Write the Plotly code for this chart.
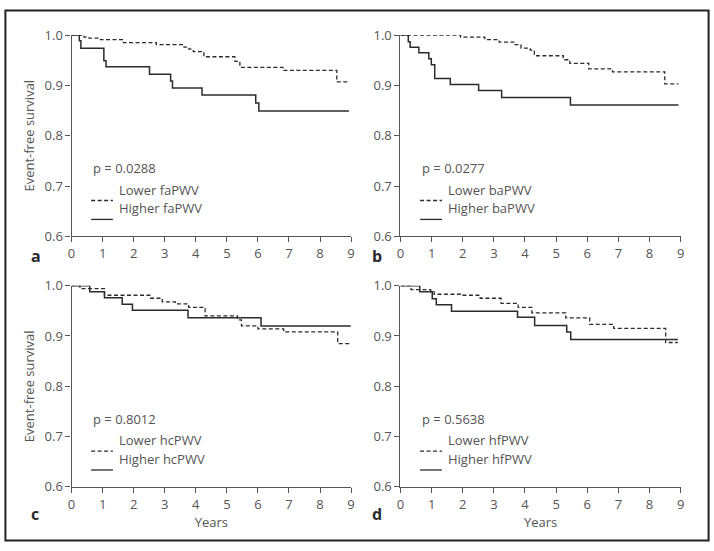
import plotly.graph_objects as go
from plotly.subplots import make_subplots

# Kaplan-Meier curves: step times (years) and survival
a_low_t = [0, 0.40, 0.56, 0.93, 1.67, 2.73, 3.62, 3.78, 3.92, 4.26, 5.26, 5.42, 6.81, 8.54, 8.93]
a_low_s = [1.0, 0.996, 0.994, 0.991, 0.985, 0.981, 0.976, 0.972, 0.967, 0.957, 0.948, 0.936, 0.930, 0.907, 0.907]
a_high_t = [0, 0.25, 0.30, 1.04, 1.11, 2.51, 3.19, 3.25, 4.20, 5.93, 6.03, 8.93]
a_high_s = [1.0, 0.989, 0.974, 0.949, 0.937, 0.922, 0.909, 0.895, 0.881, 0.865, 0.849, 0.849]

b_low_t = [0, 1.93, 2.71, 3.17, 3.64, 3.87, 4.17, 4.30, 5.23, 5.44, 6.05, 6.81, 8.49, 8.93]
b_low_s = [1.0, 0.996, 0.991, 0.986, 0.981, 0.974, 0.970, 0.959, 0.951, 0.944, 0.933, 0.927, 0.903, 0.903]
b_high_t = [0, 0.25, 0.31, 0.59, 0.91, 0.99, 1.10, 1.60, 2.51, 3.25, 5.46, 8.93]
b_high_s = [1.0, 0.987, 0.976, 0.965, 0.953, 0.941, 0.914, 0.902, 0.890, 0.876, 0.861, 0.861]

c_low_t = [0, 0.27, 1.06, 2.52, 2.92, 3.34, 3.77, 4.30, 5.34, 5.47, 6.00, 6.83, 8.57, 8.99]
c_low_s = [1.0, 0.994, 0.981, 0.975, 0.968, 0.964, 0.957, 0.940, 0.932, 0.920, 0.914, 0.908, 0.885, 0.885]
c_high_t = [0, 0.585, 1.06, 1.63, 1.96, 3.75, 6.10, 8.99]
c_high_s = [1.0, 0.988, 0.976, 0.963, 0.951, 0.936, 0.920, 0.920]

d_low_t = [0, 0.34, 0.97, 1.08, 1.93, 2.56, 3.23, 3.78, 4.22, 5.31, 6.08, 6.85, 8.52, 8.91]
d_low_s = [1.0, 0.992, 0.988, 0.983, 0.981, 0.975, 0.965, 0.957, 0.946, 0.936, 0.923, 0.915, 0.887, 0.887]
d_high_t = [0, 0.62, 1.02, 1.15, 1.64, 3.76, 4.31, 5.34, 5.47, 8.91]
d_high_s = [1.0, 0.988, 0.974, 0.962, 0.949, 0.937, 0.921, 0.908, 0.893, 0.893]

panel_letters = ["a", "b", "c", "d"]
measures = ["faPWV", "baPWV", "hcPWV", "hfPWV"]
p_values = ["0.0288", "0.0277", "0.8012", "0.5638"]

curves = [
    (a_low_t, a_low_s, a_high_t, a_high_s),
    (b_low_t, b_low_s, b_high_t, b_high_s),
    (c_low_t, c_low_s, c_high_t, c_high_s),
    (d_low_t, d_low_s, d_high_t, d_high_s),
]

FONT = "Open Sans"
INK = "#2b2b2b"
GREY = "#555555"

fig = make_subplots(rows=2, cols=2)

x_domains = [[0.0957, 0.4916], [0.5616, 0.9584]]
y_domains = [[0.5735, 0.951], [0.1034, 0.4809]]

for i, (lt, ls, ht, hs) in enumerate(curves):
    row, col = i // 2 + 1, i % 2 + 1
    fig.add_trace(go.Scatter(x=lt, y=ls, mode="lines", line_shape="hv",
                             line=dict(color=INK, width=1.3, dash="4px,2.5px"),
                             showlegend=False), row=row, col=col)
    fig.add_trace(go.Scatter(x=ht, y=hs, mode="lines", line_shape="hv",
                             line=dict(color=INK, width=1.5),
                             showlegend=False), row=row, col=col)

    n = "" if i == 0 else str(i + 1)
    xr, yr = "x" + n, "y" + n
    fig.update_xaxes(domain=x_domains[col - 1], range=[0, 9], tickvals=list(range(10)),
                     row=row, col=col)
    fig.update_yaxes(domain=y_domains[row - 1], range=[0.6, 1.0],
                     tickvals=[0.6, 0.7, 0.8, 0.9, 1.0], ticktext=["0.6", "0.7", "0.8", "0.9", "1.0"],
                     row=row, col=col)
    if col == 1:
        fig.update_yaxes(title=dict(text="Event-free survival", standoff=6,
                                    font=dict(size=13, color=GREY)), row=row, col=col)
    if row == 2:
        fig.update_xaxes(title=dict(text="Years", standoff=6,
                                    font=dict(size=13, color=GREY)), row=row, col=col)

    # p value and hand-drawn style legend
    fig.add_annotation(x=0.07, y=0.284, xref=xr + " domain", yref=yr + " domain",
                       text="p = " + p_values[i], showarrow=False, xanchor="left",
                       font=dict(size=13, color=GREY))
    for j, (label, dash, yy) in enumerate([("Lower ", "4px,2.5px", 0.178),
                                           ("Higher ", "solid", 0.084)]):
        fig.add_shape(type="line", xref=xr + " domain", yref=yr + " domain",
                      x0=0.07, x1=0.148, y0=yy, y1=yy,
                      line=dict(color=INK, width=1.3, dash=dash))
        fig.add_annotation(x=0.163, y=yy, xref=xr + " domain", yref=yr + " domain",
                           text=label + measures[i], showarrow=False, xanchor="left",
                           font=dict(size=13, color=GREY))

    # panel letter
    fig.add_annotation(x=[0.035, 0.529][col - 1], y=[1 - 255 / 551, 1 - 535 / 551][row - 1],
                       xref="paper", yref="paper", text="<b>" + panel_letters[i] + "</b>",
                       showarrow=False, font=dict(size=16, color=INK))

fig.update_xaxes(showline=True, linecolor=GREY, linewidth=1.3, ticks="outside",
                 ticklen=5, tickcolor=GREY, showgrid=False, zeroline=False,
                 tickfont=dict(size=13, color=GREY))
fig.update_yaxes(showline=True, linecolor=GREY, linewidth=1.3, ticks="outside",
                 ticklen=5, tickcolor=GREY, showgrid=False, zeroline=False,
                 tickfont=dict(size=13, color=GREY))

# outer frame
fig.add_shape(type="rect", xref="paper", yref="paper", x0=0.002, x1=0.998, y0=0.003, y1=0.997,
              line=dict(color="#222222", width=2))

fig.update_layout(
    width=714, height=551,
    margin=dict(l=0, r=0, t=0, b=0),
    plot_bgcolor="white", paper_bgcolor="white",
    font=dict(family=FONT, color=GREY),
    showlegend=False,
)

fig.write_html("out.html", config={"displayModeBar": False},
               post_script="document.body.style.margin='0';")
